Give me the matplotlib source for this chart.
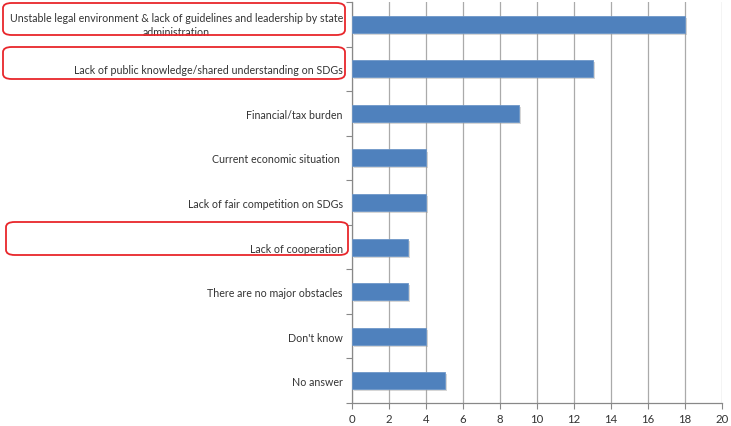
import matplotlib.pyplot as plt
import matplotlib.patheffects as pe
from matplotlib.patches import FancyBboxPatch
from matplotlib.transforms import ScaledTranslation
import numpy as np

categories = [
    'Unstable legal environment & lack of guidelines and leadership by state\nadministration',
    'Lack of public knowledge/shared understanding on SDGs',
    'Financial/tax burden',
    'Current economic situation ',
    'Lack of fair competition on SDGs',
    'Lack of cooperation',
    'There are no major obstacles',
    "Don't know",
    'No answer',
]
values = [18, 13, 9, 4, 4, 3, 3, 4, 5]
xticks = list(range(0, 21, 2))

plt.rcParams['font.family'] = ['Lato', 'DejaVu Sans']

fig = plt.figure(figsize=(7.31, 4.27), dpi=100)
ax = fig.add_axes([352 / 731, 1 - 404 / 427, 370 / 731, 401 / 427])

y = np.arange(len(categories))
bars = ax.barh(y, values, height=0.38, color='#4F81BD', edgecolor='#6E97C8',
               linewidth=0.6, zorder=3)
for b in bars:
    b.set_path_effects([pe.SimplePatchShadow(offset=(1.5, -1.5), shadow_rgbFace='#9a9a9a', alpha=0.4),
                        pe.Normal()])

ax.set_ylim(len(categories) - 0.5, -0.5)
ax.set_xlim(0, 20)
ax.set_xticks(xticks)
ax.set_xticklabels([str(t) for t in xticks], fontsize=8.2, color='#333333')
ax.set_yticks(y)
ax.set_yticklabels(categories, fontsize=7.65, color='#333333', multialignment='center',
                   linespacing=1.35)
ax.set_yticks(np.arange(-0.5, len(categories), 1), minor=True)
ax.tick_params(axis='y', which='major', length=0, pad=6.5)
ax.tick_params(axis='y', which='minor', length=4, color='#888888', width=0.8)
ax.tick_params(axis='x', length=4, color='#888888', width=0.8, pad=3)

# two-line label sits a little above its bar
first = ax.get_yticklabels()[0]
first.set_transform(first.get_transform() + ScaledTranslation(0, 0.02, fig.dpi_scale_trans))

ax.grid(axis='x', color='#aaaaaa', linewidth=0.9, zorder=0)
ax.set_axisbelow(True)
for s in ['top', 'right']:
    ax.spines[s].set_visible(False)
for s in ['left', 'bottom']:
    ax.spines[s].set_color('#888888')
    ax.spines[s].set_linewidth(0.9)

# red highlight boxes (pixel coords -> figure fraction)
W, H = 731, 427
boxes = [(3, 4, 342, 32), (3, 48, 342, 32), (6, 223, 342, 33)]
for x0, y0, w, h in boxes:
    p = FancyBboxPatch((x0 / W, 1 - (y0 + h) / H), w / W, h / H,
                       boxstyle='round,pad=0,rounding_size=0.012',
                       transform=fig.transFigure, fill=False,
                       edgecolor='#E8262B', linewidth=1.3)
    fig.patches.append(p)

fig.savefig('out.png', dpi=100)
